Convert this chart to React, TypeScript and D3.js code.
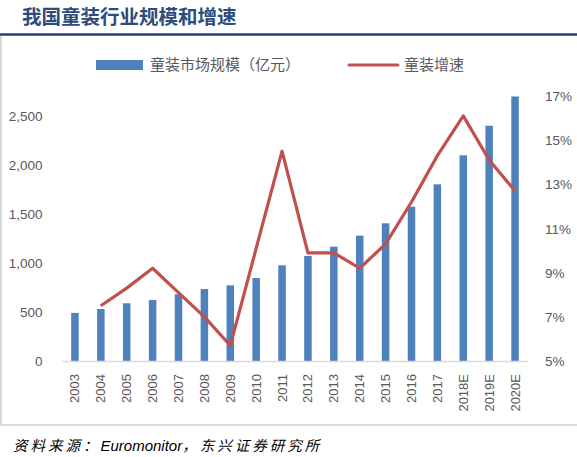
import React from "react";
import * as d3 from "d3";

const categories = ["2003","2004","2005","2006","2007","2008","2009","2010","2011","2012","2013","2014","2015","2016","2017","2018E","2019E","2020E"];
const marketSize = [490,530,588,621,680,733,771,846,975,1070,1165,1277,1403,1572,1800,2096,2397,2695];
const growth: (number | null)[] = [null,7.5,8.3,9.2,8.1,7.0,5.7,10.1,14.5,9.9,9.9,9.2,10.3,12.2,14.3,16.1,14.1,12.7];
const leftTicks = [0,500,1000,1500,2000,2500];
const rightTicks = [5,7,9,11,13,15,17];

const W = 577, H = 457;
const plot = { left: 62, right: 528, top: 96, bottom: 361 };
const numFont = "'Liberation Sans', Arial, sans-serif";
const cjkFont = "'Noto Sans CJK SC', sans-serif";

export default function App() {
  const x = d3.scaleBand().domain(categories).range([plot.left, plot.right]).paddingInner(0.71).paddingOuter(0.355);
  const yL = d3.scaleLinear().domain([0, 2700]).range([plot.bottom, plot.top]);
  const yR = d3.scaleLinear().domain([5, 17]).range([plot.bottom, plot.top]);
  const line = d3.line<number | null>()
    .defined((d) => d != null)
    .x((_, i) => (x(categories[i]) as number) + x.bandwidth() / 2)
    .y((d) => yR(d as number));
  const fmt = d3.format(",");
  return (
    <svg width={W} height={H} style={{ position: "absolute", left: 0, top: 0, background: "#fff" }}>
      <text x={22} y={24} fontFamily={cjkFont} fontWeight="bold" fontSize={19.5} fill="#2D4C7C">我国童装行业规模和增速</text>
      <line x1={0} x2={577} y1={34.5} y2={34.5} stroke="#1F3F6E" strokeWidth={2.5} />
      <line x1={1} x2={1} y1={36} y2={425} stroke="#d9d9d9" strokeWidth={2} />
      <line x1={0} x2={577} y1={425} y2={425} stroke="#d9d9d9" strokeWidth={2} />

      {/* legend */}
      <rect x={96} y={60} width={47} height={10} fill="#4F81BD" />
      <text x={150} y={70} fontFamily={cjkFont} fontSize={15} fill="#595959">童装市场规模（亿元）</text>
      <line x1={349} x2={398} y1={65} y2={65} stroke="#C0504D" strokeWidth={3} strokeLinecap="round" />
      <text x={404} y={70} fontFamily={cjkFont} fontSize={15} fill="#595959">童装增速</text>

      {/* bars */}
      {marketSize.map((v, i) => (
        <rect key={i} x={x(categories[i])} y={yL(v)} width={x.bandwidth()} height={plot.bottom - yL(v)} fill="#4F81BD" />
      ))}
      <line x1={plot.left} x2={plot.right} y1={plot.bottom + 0.5} y2={plot.bottom + 0.5} stroke="#d9d9d9" strokeWidth={1.5} />

      {/* line */}
      <path d={line(growth) || ""} fill="none" stroke="#C0504D" strokeWidth={3.2} strokeLinejoin="round" />

      {/* left axis */}
      {leftTicks.map((t) => (
        <text key={t} x={42.5} y={yL(t) + 5} textAnchor="end" fontFamily={numFont} fontSize={13.5} fill="#595959">{fmt(t)}</text>
      ))}
      {/* right axis */}
      {rightTicks.map((t) => (
        <text key={t} x={545} y={yR(t) + 5} fontFamily={numFont} fontSize={13.5} fill="#595959">{t}%</text>
      ))}
      {/* x labels */}
      {categories.map((c) => {
        const cx = (x(c) as number) + x.bandwidth() / 2;
        return (
          <text key={c} transform={`translate(${cx + 4.5},374) rotate(-90)`} textAnchor="end" fontFamily={numFont} fontSize={13} fill="#595959">{c}</text>
        );
      })}

      <text x={13} y={451} fontSize={14.5} fontStyle="italic" fill="#000">
        <tspan fontFamily={cjkFont} letterSpacing={3}>资料来源：</tspan><tspan fontFamily={numFont} fontSize={15}>Euromonitor</tspan><tspan fontFamily={cjkFont} letterSpacing={3}>，东兴证券研究所</tspan>
      </text>
    </svg>
  );
}
